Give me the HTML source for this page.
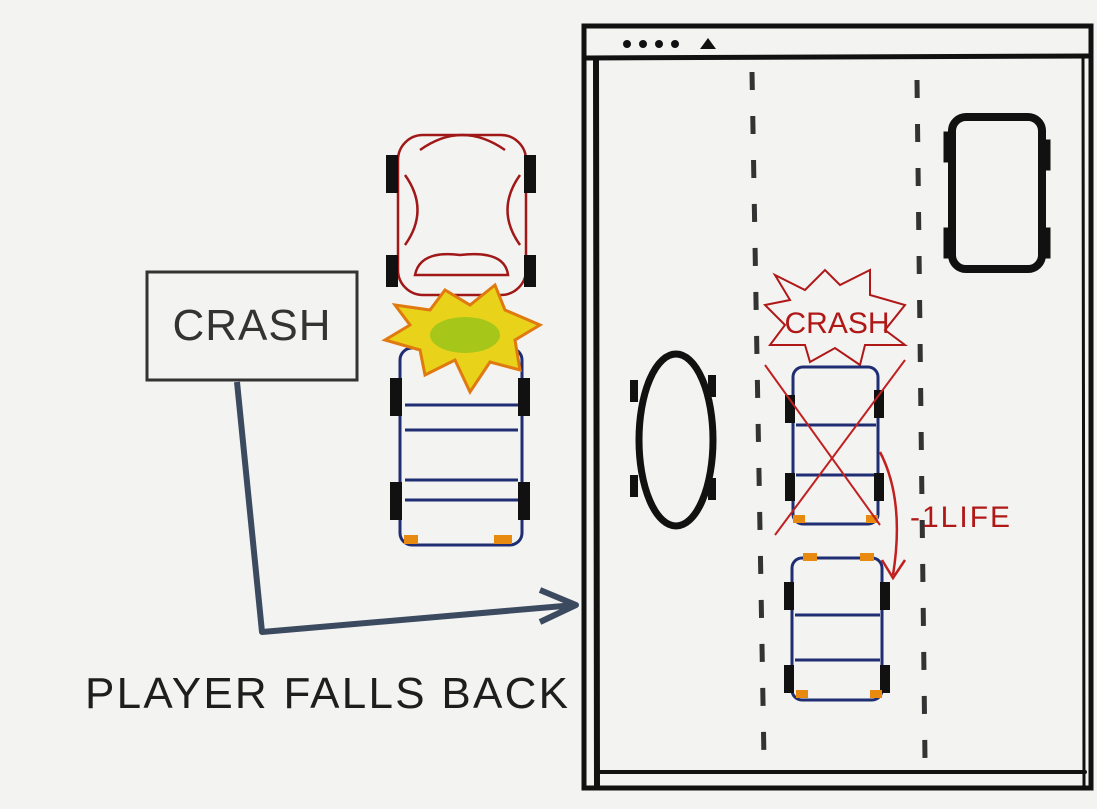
<!DOCTYPE html>
<html><head><meta charset="utf-8"><style>
html,body{margin:0;padding:0;background:#f3f3f1;}
svg{display:block}
text{font-family:"Liberation Sans",sans-serif;}
</style></head><body>
<svg width="1097" height="809" viewBox="0 0 1097 809">
<rect x="0" y="0" width="1097" height="809" fill="#f3f3f1"/>
<!-- browser window -->
<g fill="none" stroke="#111" stroke-linecap="round">
<rect x="584" y="26" width="507" height="762" stroke-width="5"/>
<line x1="586" y1="58" x2="1090" y2="56" stroke-width="5"/>
<line x1="596" y1="60" x2="597" y2="786" stroke-width="6"/>
<line x1="1083" y1="58" x2="1084" y2="786" stroke-width="3"/>
<line x1="596" y1="772" x2="1085" y2="772" stroke-width="4"/>
</g>
<g fill="#111">
<circle cx="627" cy="44" r="4"/><circle cx="643" cy="44" r="4"/><circle cx="659" cy="44" r="4"/><circle cx="675" cy="44" r="4"/>
<path d="M700 49 L708 38 L716 49 Z"/>
</g>
<!-- lane dashes -->
<g stroke="#333" stroke-width="5" stroke-dasharray="18 26">
<line x1="752" y1="72" x2="764" y2="760"/>
</g>
<g stroke="#333" stroke-width="5" stroke-dasharray="18 26">
<line x1="917" y1="80" x2="925" y2="760"/>
</g>
<!-- black car -->
<g stroke="#111" fill="none">
<rect x="952" y="117" width="90" height="152" rx="14" stroke-width="8"/>
<rect x="944" y="132" width="10" height="30" fill="#111"/><rect x="1040" y="140" width="10" height="30" fill="#111"/>
<rect x="944" y="228" width="10" height="30" fill="#111"/><rect x="1040" y="228" width="10" height="30" fill="#111"/>
</g>
<!-- oval -->
<g>
<ellipse cx="676" cy="440" rx="37" ry="86" fill="none" stroke="#111" stroke-width="7"/>
<rect x="630" y="380" width="8" height="22" fill="#111"/><rect x="708" y="375" width="8" height="22" fill="#111"/>
<rect x="630" y="475" width="8" height="22" fill="#111"/><rect x="708" y="478" width="8" height="22" fill="#111"/>
</g>
<!-- crash burst right -->
<g>
<path d="M775 275 L805 290 L825 270 L840 285 L870 270 L870 295 L905 305 L885 330 L905 345 L865 345 L860 365 L835 348 L810 362 L805 345 L770 345 L785 325 L765 305 L790 300 Z" fill="none" stroke="#b01818" stroke-width="2"/>
<text x="837" y="333" font-size="30" fill="#b01818" text-anchor="middle" font-weight="normal">CRASH</text>
</g>
<!-- crashed blue car -->
<g stroke="#1f2e73" fill="none" stroke-width="3">
<rect x="793" y="367" width="85" height="157" rx="10"/>
<line x1="796" y1="425" x2="876" y2="425"/><line x1="796" y1="475" x2="876" y2="475"/>
<rect x="785" y="395" width="10" height="28" fill="#111" stroke="none"/><rect x="874" y="390" width="10" height="28" fill="#111" stroke="none"/>
<rect x="785" y="473" width="10" height="28" fill="#111" stroke="none"/><rect x="874" y="473" width="10" height="28" fill="#111" stroke="none"/>
<rect x="793" y="515" width="12" height="8" fill="#e88a10" stroke="none"/><rect x="866" y="515" width="12" height="8" fill="#e88a10" stroke="none"/>
</g>
<g stroke="#c02020" stroke-width="2">
<line x1="765" y1="365" x2="880" y2="525"/><line x1="905" y1="360" x2="775" y2="535"/>
</g>
<path d="M880 452 Q905 500 893 575 M882 560 L893 578 L905 560" fill="none" stroke="#c02020" stroke-width="2.5"/>
<text x="910" y="527" font-size="30" fill="#b01818" letter-spacing="2">-1LIFE</text>
<!-- blue car below -->
<g stroke="#1f2e73" fill="none" stroke-width="3">
<rect x="792" y="558" width="90" height="142" rx="10"/>
<line x1="795" y1="615" x2="880" y2="615"/><line x1="795" y1="660" x2="880" y2="660"/>
<rect x="784" y="582" width="10" height="28" fill="#111" stroke="none"/><rect x="880" y="582" width="10" height="28" fill="#111" stroke="none"/>
<rect x="784" y="665" width="10" height="28" fill="#111" stroke="none"/><rect x="880" y="665" width="10" height="28" fill="#111" stroke="none"/>
<rect x="803" y="553" width="14" height="8" fill="#e88a10" stroke="none"/><rect x="860" y="553" width="14" height="8" fill="#e88a10" stroke="none"/>
<rect x="796" y="690" width="12" height="8" fill="#e88a10" stroke="none"/><rect x="870" y="690" width="12" height="8" fill="#e88a10" stroke="none"/>
</g>
<!-- left: red car -->
<g stroke="#a01818" fill="none" stroke-width="2.5">
<rect x="398" y="135" width="128" height="160" rx="25"/>
<path d="M420 150 Q462 120 505 150"/><path d="M415 275 Q420 250 460 255 Q505 250 508 275 Z"/>
<path d="M405 175 Q430 210 405 245"/><path d="M520 175 Q495 210 520 245"/>
<rect x="386" y="155" width="12" height="38" fill="#111" stroke="none"/><rect x="524" y="155" width="12" height="38" fill="#111" stroke="none"/>
<rect x="386" y="255" width="12" height="32" fill="#111" stroke="none"/><rect x="524" y="255" width="12" height="32" fill="#111" stroke="none"/>
</g>
<!-- left: blue car -->
<g stroke="#1f2e73" fill="none" stroke-width="3">
<rect x="400" y="348" width="122" height="197" rx="12"/>
<line x1="405" y1="405" x2="518" y2="405"/><line x1="405" y1="430" x2="518" y2="430"/>
<line x1="405" y1="480" x2="518" y2="480"/><line x1="405" y1="500" x2="518" y2="500"/>
<rect x="390" y="378" width="12" height="38" fill="#111" stroke="none"/><rect x="518" y="378" width="12" height="38" fill="#111" stroke="none"/>
<rect x="390" y="482" width="12" height="38" fill="#111" stroke="none"/><rect x="518" y="482" width="12" height="38" fill="#111" stroke="none"/>
<rect x="404" y="535" width="14" height="9" fill="#e88a10" stroke="none"/><rect x="494" y="535" width="18" height="9" fill="#e88a10" stroke="none"/>
</g>
<!-- explosion -->
<path d="M395 305 L430 310 L445 290 L470 305 L495 285 L505 310 L540 325 L515 340 L520 370 L490 362 L470 392 L455 360 L425 375 L420 350 L385 340 L410 325 Z" fill="#e8d21a" stroke="#e07a10" stroke-width="3"/>
<ellipse cx="465" cy="335" rx="35" ry="18" fill="#a6c61a"/>
<!-- sign -->
<g>
<rect x="147" y="272" width="210" height="108" fill="none" stroke="#333" stroke-width="3"/>
<text x="252" y="340" font-size="44" text-anchor="middle" fill="#333" letter-spacing="1">CRASH</text>
</g>
<path d="M237 382 L262 632 L575 605 M540 590 L576 605 L540 622" fill="none" stroke="#3c4a60" stroke-width="6" stroke-linejoin="round"/>
<text x="85" y="708" font-size="44" fill="#1e1e1e" letter-spacing="2" textLength="485">PLAYER FALLS BACK</text>
</svg>
</body></html>
